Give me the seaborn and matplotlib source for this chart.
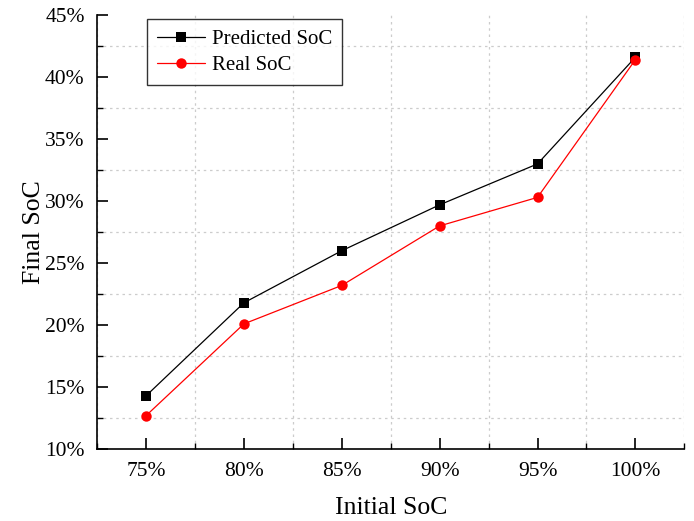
import pandas as pd
import matplotlib.pyplot as plt
import seaborn as sns
from matplotlib.ticker import MultipleLocator, FuncFormatter

# Dati
initial_soc = [75, 80, 85, 90, 95, 100]
predicted_soc = [14.3, 21.8, 26.0, 29.7, 33.0, 41.6]
real_soc = [12.7, 20.1, 23.2, 28.0, 30.3, 41.4]

df = pd.DataFrame({
    'Initial SoC': initial_soc * 2,
    'Final SoC': predicted_soc + real_soc,
    'Serie': ['Predicted SoC'] * 6 + ['Real SoC'] * 6,
})

sns.set_style("ticks")
plt.rcParams['font.family'] = ['Liberation Serif', 'DejaVu Serif']
plt.rcParams['text.color'] = 'black'
plt.rcParams['axes.labelcolor'] = 'black'
plt.rcParams['xtick.color'] = 'black'
plt.rcParams['ytick.color'] = 'black'

fig = plt.figure(figsize=(6.94, 5.21), dpi=100)
ax = fig.add_axes([0.140, 0.138, 0.846, 0.833])

sns.lineplot(data=df, x='Initial SoC', y='Final SoC', hue='Serie', style='Serie',
             palette={'Predicted SoC': 'black', 'Real SoC': '#ff0000'},
             markers={'Predicted SoC': 's', 'Real SoC': 'o'},
             dashes=False, markersize=7.5, linewidth=0.9, markeredgewidth=0,
             ax=ax)

ax.set_xlim(72.5, 102.5)
ax.set_ylim(10, 45)
ax.xaxis.set_major_locator(MultipleLocator(5))
ax.xaxis.set_minor_locator(MultipleLocator(2.5))
ax.yaxis.set_major_locator(MultipleLocator(5))
ax.yaxis.set_minor_locator(MultipleLocator(2.5))
pct = FuncFormatter(lambda v, p: f"{v:.0f}%")
ax.xaxis.set_major_formatter(pct)
ax.yaxis.set_major_formatter(pct)

# Griglia tratteggiata solo sui minor tick
ax.grid(False)
ax.grid(which='minor', linestyle=(0, (2, 3)), color='#cccccc', linewidth=0.9)
ax.set_axisbelow(True)

sns.despine(ax=ax)
for s in ['left', 'bottom']:
    ax.spines[s].set_linewidth(1.2)
    ax.spines[s].set_color('black')
ax.tick_params(which='major', direction='in', length=8, width=1.2, labelsize=15.5, pad=9)
ax.tick_params(which='minor', direction='in', length=4, width=1.0)

ax.set_xlabel('Initial SoC', fontsize=18.5, labelpad=12)
ax.set_ylabel('Final SoC', fontsize=18.5, labelpad=0)

leg = ax.legend(loc='upper left', bbox_to_anchor=(0.085, 0.991), borderaxespad=0,
                fontsize=15, frameon=True, fancybox=False, edgecolor='black',
                handlelength=2.3, handletextpad=0.3, borderpad=0.5,
                labelspacing=0.3)
leg.get_frame().set_linewidth(1.0)
leg.set_title(None)

fig.savefig('out.png', dpi=100)
